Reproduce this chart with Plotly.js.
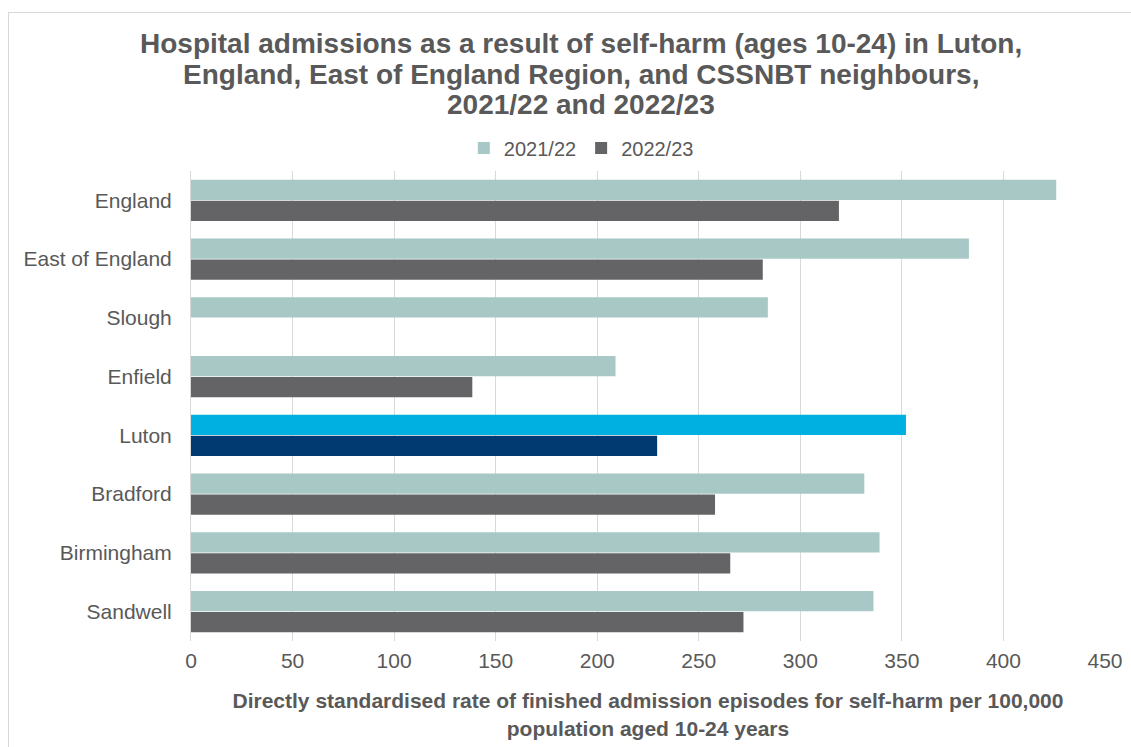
<!DOCTYPE html>
<html>
<head>
<meta charset="utf-8">
<script src="https://cdn.plot.ly/plotly-3.0.1.min.js"></script>
<style>
  html, body { margin: 0; padding: 0; background: #ffffff; }
  #wrap { position: relative; width: 1131px; height: 747px; overflow: hidden; }
  #frame { position: absolute; left: 8px; top: 12px; width: 1140px; height: 760px; border: 1px solid #d9d9d9; box-sizing: border-box; pointer-events: none; }
  #chart { position: absolute; left: 0; top: 0; width: 1131px; height: 747px; }
</style>
</head>
<body>
<div id="wrap">
  <div id="chart"></div>
  <div id="frame"></div>
</div>
<script>
const areas = ["England", "East of England", "Slough", "Enfield", "Luton", "Bradford", "Birmingham", "Sandwell"];
const rate2122 = [426, 383, 284, 209, 352, 331.5, 339, 336];
const rate2223 = [319, 281.5, null, 138.5, 229.5, 258, 265.5, 272];
const seriesNames = ["2021/22", "2022/23"];
const xTicks = [0, 50, 100, 150, 200, 250, 300, 350, 400, 450];
const titleLines = [
  "Hospital admissions as a result of self-harm (ages 10-24) in Luton,",
  "England, East of England Region, and CSSNBT neighbours,",
  "2021/22 and 2022/23"
];
const xTitle = "Directly standardised rate of finished admission episodes for self-harm per 100,000<br>population aged 10-24 years";

const col2122 = "#a8c8c6", col2223 = "#646466";
const lutonCol2122 = "#00b0e0", lutonCol2223 = "#003a70";

const colors2122 = areas.map(a => a === "Luton" ? lutonCol2122 : col2122);
const colors2223 = areas.map(a => a === "Luton" ? lutonCol2223 : col2223);

const font = "Liberation Sans, Arial, sans-serif";
const grey = "#595959";

const traces = [
  { type: "bar", orientation: "h", name: seriesNames[0], y: areas, x: rate2122,
    marker: { color: colors2122 }, hoverinfo: "x+y" },
  { type: "bar", orientation: "h", name: seriesNames[1], y: areas, x: rate2223,
    marker: { color: colors2223 }, hoverinfo: "x+y" }
];

// plot area: top 171, bottom 641 (height 470), left 191, right 1105
const plotTop = 171, plotBottom = 641, plotH = plotBottom - plotTop;
const pyToPaper = py => (plotBottom - py) / plotH;
const titleCenters = [43.5, 74.2, 104.8];

const annotations = titleLines.map((t, i) => ({
  text: "<b>" + t + "</b>", showarrow: false,
  xref: "paper", yref: "paper", x: (581 - 191) / 914, y: pyToPaper(titleCenters[i]),
  xanchor: "center", yanchor: "middle",
  font: { family: font, size: 28, color: grey }
}));

const layout = {
  width: 1131, height: 747,
  paper_bgcolor: "rgba(0,0,0,0)", plot_bgcolor: "#ffffff",
  margin: { l: 191, r: 26, t: plotTop, b: 747 - plotBottom },
  barmode: "group", bargap: 0.286, bargroupgap: 0.03,
  font: { family: font, color: grey },
  annotations: annotations,
  legend: {
    orientation: "h", xref: "container", yref: "container",
    x: 0.514, xanchor: "center", y: 1 - 148 / 747, yanchor: "middle",
    font: { family: font, size: 20, color: grey }, traceorder: "normal",
    itemwidth: 30
  },
  xaxis: {
    range: [0, 450], tickvals: xTicks, ticktext: xTicks.map(String),
    showgrid: true, gridcolor: "#d9d9d9", gridwidth: 1, zeroline: false,
    showline: false, ticks: "", ticklabelstandoff: 5,
    tickfont: { family: font, size: 21, color: grey },
    title: {
      text: xTitle,
      font: { family: font, size: 21, color: grey, weight: "bold" },
      standoff: 22
    }
  },
  yaxis: {
    type: "category", autorange: "reversed",
    showgrid: false, zeroline: false, showline: true, linecolor: "#d9d9d9",
    ticks: "", ticklabelstandoff: 14,
    tickfont: { family: font, size: 21, color: grey }
  }
};

Plotly.newPlot("chart", traces, layout, { displayModeBar: false, staticPlot: true });
</script>
</body>
</html>
